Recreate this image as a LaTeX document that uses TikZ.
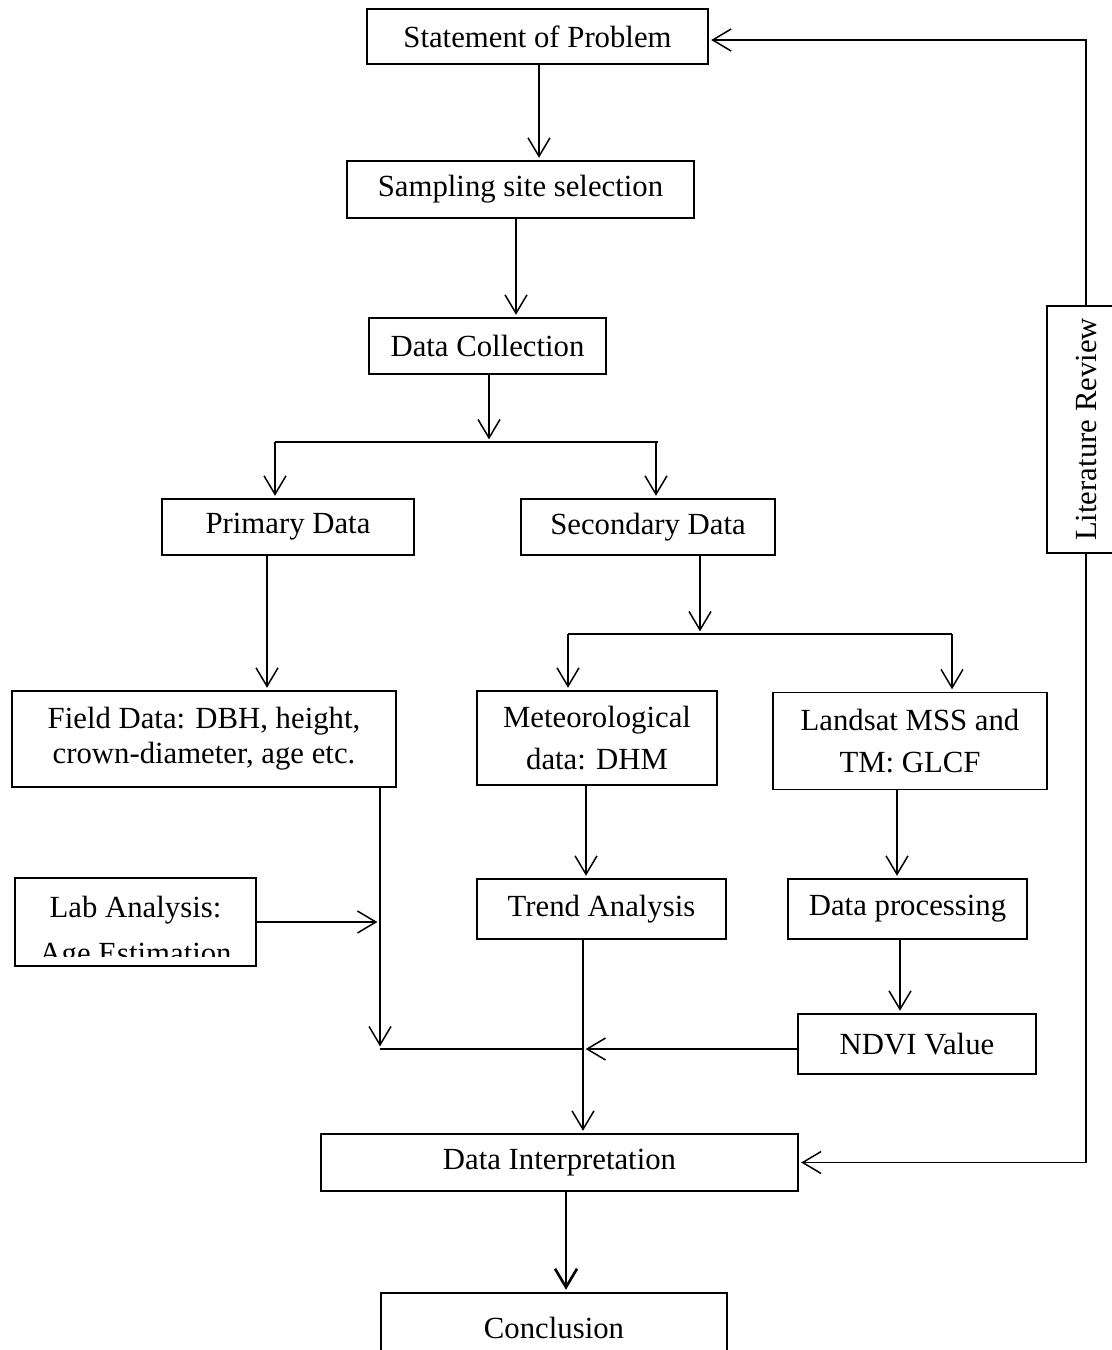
\documentclass[tikz,border=0pt]{standalone}
\usepackage{fontspec}
\setmainfont{Liberation Serif}
\usetikzlibrary{calc,arrows.meta}

\begin{document}
\begin{tikzpicture}[x=0.02cm,y=-0.02cm,
	box/.style={draw,line width=0.7pt,align=center,inner sep=0pt,font=\fontsize{17.5}{20}\selectfont},
	arr/.style={-{Straight Barb[length=10.5pt,width=12.5pt]},line width=0.85pt,shorten >=1.5pt}]
			\useasboundingbox (0,0) rectangle (1112,1350);
			\node[box,minimum width=6.82cm,minimum height=1.10cm] (stmt) at (537.5,36.5) {Statement of Problem};
			\node[box,minimum width=6.94cm,minimum height=1.14cm] (samp) at (520.5,189.5) {Sampling site selection};
			\node[box,minimum width=4.74cm,minimum height=1.12cm] (coll) at (487.5,346) {Data Collection};
			\node[box,minimum width=5.04cm,minimum height=1.12cm] (prim) at (288,527) {Primary Data};
			\node[box,minimum width=5.08cm,minimum height=1.12cm] (sec) at (648,527) {Secondary Data};
			\node[box,minimum width=7.68cm,minimum height=1.92cm] (field) at (204,739) {Field Data: DBH, height,\\crown-diameter, age etc.};
			\node[box,minimum width=4.80cm,minimum height=1.88cm,font=\fontsize{17.5}{24}\selectfont] (met) at (597,738) {Meteorological\\data: DHM};
			\node[box,minimum width=5.48cm,minimum height=1.94cm,font=\fontsize{17.5}{24}\selectfont] (land) at (910,741) {Landsat MSS and\\TM: GLCF};
			\node[box,minimum width=4.98cm,minimum height=1.20cm] (trend) at (601.5,909) {Trend Analysis};
			\node[box,minimum width=4.78cm,minimum height=1.20cm] (proc) at (907.5,909) {Data processing};
			\node[box,minimum width=4.76cm,minimum height=1.20cm] (ndvi) at (917,1044) {NDVI Value};
			\node[box,minimum width=4.82cm,minimum height=1.76cm] (lab) at (135.5,922) {};
			\begin{scope}
				\clip (15,870) rectangle (256,956);
				\node[font=\fontsize{17.5}{26}\selectfont,align=center] (labtext) at (135.5,933) {Lab Analysis:\\Age Estimation};
			\end{scope}
			\node[box,minimum width=9.54cm,minimum height=1.14cm] (interp) at (559.5,1162.5) {Data Interpretation};
			\node[box,minimum width=6.92cm,minimum height=1.40cm] (concl) at (554,1328) {Conclusion};
			\node[box,rotate=90,minimum width=4.94cm,minimum height=1.56cm] (lit) at (1086,429.5) {Literature Review};
			\coordinate (sL) at (275,442);
			\coordinate (sR) at (656,442);
			\coordinate (tL) at (568,634);
			\coordinate (tM) at (700,634);
			\coordinate (tR) at (952,634);
			\coordinate (mL) at (380,1049);
			\coordinate (mC) at (583,1049);
			\draw[arr] ([xshift=0.03cm]stmt.south) -- ([xshift=0.03cm]stmt.south |- samp.north);
			\draw[arr] ([xshift=-0.09cm]samp.south) -- ([xshift=-0.09cm]samp.south |- coll.north);
			\draw[arr] ([xshift=0.03cm]coll.south) -- ([xshift=0.03cm]coll.south |- sL);
			\draw[line width=0.85pt] (sL) -- ([xshift=0.04cm]sR);
			\draw[arr] (sL) -- (sL |- prim.north);
			\draw[arr] (sR) -- (sR |- sec.north);
			\draw[arr] (tM |- sec.south) -- (tM);
			\draw[line width=0.85pt] (tL) -- (tR);
			\draw[arr] (tL) -- (tL |- met.north);
			\draw[arr] (tR) -- (tR |- land.north);
			\draw[arr] ([xshift=-0.42cm]prim.south) -- ([xshift=-0.42cm]prim.south |- field.north);
			\draw[arr] ([xshift=-0.22cm]met.south) -- ([xshift=-0.22cm]met.south |- trend.north);
			\draw[arr] ([xshift=-0.26cm]land.south) -- ([xshift=-0.26cm]land.south |- proc.north);
			\draw[arr] ([xshift=-0.15cm]proc.south) -- ([xshift=-0.15cm]proc.south |- ndvi.north);
			\draw[arr] (mL |- field.south) -- (mL);
			\draw[arr] (lab.east) -- (lab.east -| mL);
			\draw[line width=0.85pt] (mL) -- (mC);
			\draw[arr] (mC -| ndvi.west) -- (mC);
			\draw[arr] (mC |- trend.south) -- (mC |- interp.north);
			\draw[arr,line width=1.5pt] ([xshift=0.13cm]interp.south) -- ([xshift=0.13cm]interp.south |- concl.north);
			\draw[arr] (lit.east) |- ([yshift=-0.07cm]stmt.east);
			\draw[arr] (lit.west) |- (interp.east);
\end{tikzpicture}
\end{document}
